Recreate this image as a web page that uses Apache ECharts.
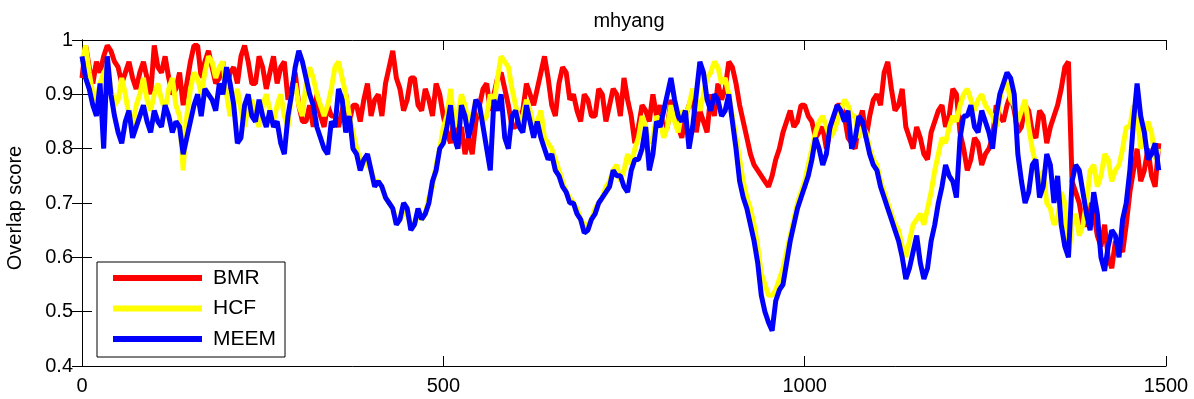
<!DOCTYPE html>
<html>
<head>
<meta charset="utf-8">
<script src="https://cdn.jsdelivr.net/npm/echarts@6/dist/echarts.min.js"></script>
<style>
html,body{margin:0;padding:0;background:#fff;}
#chart{width:1194px;height:399px;}
</style>
</head>
<body>
<div id="chart"></div>
<script>
// frames sampled every 10 (A) and the in-between frames (B)
var framesA = [0,10,20,30,40,50,60,70,80,90,100,110,120,130,140,150,160,170,180,190,200,210,220,230,240,250,260,270,280,290,300,310,320,330,340,350,360,370,380,390,400,410,420,430,440,450,460,470,480,490,500,510,520,530,540,550,560,570,580,590,600,610,620,630,640,650,660,670,680,690,700,710,720,730,740,750,760,770,780,790,800,810,820,830,840,850,860,870,880,890,900,910,920,930,940,950,960,970,980,990,1000,1010,1020,1030,1040,1050,1060,1070,1080,1090,1100,1110,1120,1130,1140,1150,1160,1170,1180,1190,1200,1210,1220,1230,1240,1250,1260,1270,1280,1290,1300,1310,1320,1330,1340,1350,1360,1370,1380,1390,1400,1410,1420,1430,1440,1450,1460,1470,1480,1490];
var framesB = [5,15,25,35,45,55,65,75,85,95,105,115,125,135,145,155,165,175,185,195,205,215,225,235,245,255,265,275,285,295,305,315,325,335,345,355,365,375,385,395,405,415,425,435,445,455,465,475,485,495,505,515,525,535,545,555,565,575,585,595,605,615,625,635,645,655,665,675,685,695,705,715,725,735,745,755,765,775,785,795,805,815,825,835,845,855,865,875,885,895,905,915,925,935,945,955,965,975,985,995,1005,1015,1025,1035,1045,1055,1065,1075,1085,1095,1105,1115,1125,1135,1145,1155,1165,1175,1185,1195,1205,1215,1225,1235,1245,1255,1265,1275,1285,1295,1305,1315,1325,1335,1345,1355,1365,1375,1385,1395,1405,1415,1425,1435,1445,1455,1465,1475,1485];

var bmrA = [0.93,0.95,0.96,0.97,0.98,0.95,0.94,0.93,0.94,0.93,
0.99,0.94,0.93,0.91,0.88,0.96,0.99,0.96,0.95,0.93,
0.91,0.95,0.97,0.96,0.92,0.95,0.94,0.92,0.96,0.91,
0.88,0.85,0.84,0.86,0.88,0.86,0.87,0.85,0.88,0.89,
0.86,0.90,0.92,0.98,0.91,0.89,0.93,0.87,0.89,0.92,
0.86,0.81,0.80,0.79,0.79,0.88,0.92,0.90,0.94,0.88,
0.84,0.87,0.90,0.91,0.97,0.88,0.92,0.94,0.90,0.85,
0.89,0.86,0.90,0.88,0.90,0.93,0.86,0.84,0.87,0.90,
0.88,0.84,0.86,0.82,0.88,0.83,0.85,0.90,0.92,0.91,
0.95,0.88,0.82,0.77,0.75,0.73,0.78,0.83,0.87,0.85,
0.88,0.85,0.83,0.80,0.84,0.88,0.82,0.80,0.87,0.86,
0.90,0.94,0.91,0.88,0.84,0.80,0.82,0.78,0.85,0.88,
0.86,0.90,0.80,0.78,0.81,0.79,0.82,0.86,0.88,0.87,
0.84,0.87,0.82,0.86,0.84,0.88,0.95,0.74,0.70,0.66,
0.68,0.62,0.60,0.63,0.61,0.72,0.80,0.76,0.75,0.81];
var bmrB = [0.99,0.92,0.94,0.99,0.96,0.92,0.96,0.91,0.96,0.90,
0.95,0.97,0.90,0.94,0.92,0.99,0.93,0.98,0.92,0.96,
0.94,0.92,0.99,0.92,0.97,0.91,0.97,0.95,0.89,0.94,
0.85,0.88,0.90,0.84,0.86,0.84,0.90,0.88,0.85,0.92,
0.89,0.86,0.95,0.93,0.87,0.93,0.88,0.91,0.86,0.90,
0.83,0.86,0.84,0.82,0.85,0.91,0.87,0.93,0.91,0.84,
0.86,0.92,0.88,0.94,0.93,0.86,0.95,0.89,0.87,0.90,
0.86,0.91,0.85,0.91,0.86,0.89,0.81,0.88,0.85,0.86,
0.83,0.89,0.84,0.86,0.90,0.87,0.83,0.86,0.89,0.96,
0.92,0.85,0.79,0.76,0.74,0.75,0.80,0.85,0.84,0.88,
0.86,0.82,0.84,0.83,0.88,0.86,0.81,0.85,0.82,0.89,
0.88,0.96,0.87,0.91,0.82,0.84,0.79,0.83,0.87,0.84,
0.91,0.83,0.76,0.82,0.77,0.80,0.88,0.85,0.90,0.83,
0.88,0.83,0.87,0.81,0.86,0.91,0.96,0.72,0.66,0.70,
0.64,0.66,0.58,0.62,0.66,0.76,0.74,0.80,0.73];

var hcfA = [0.96,0.94,0.89,0.94,0.91,0.89,0.90,0.84,0.90,0.89,
0.90,0.89,0.91,0.88,0.76,0.91,0.93,0.94,0.96,0.95,
0.90,0.88,0.87,0.88,0.86,0.88,0.87,0.88,0.86,0.90,
0.88,0.92,0.93,0.88,0.88,0.95,0.93,0.86,0.80,0.78,
0.76,0.74,0.71,0.69,0.67,0.68,0.66,0.67,0.71,0.77,
0.84,0.91,0.86,0.88,0.86,0.87,0.86,0.88,0.97,0.95,
0.88,0.86,0.87,0.85,0.82,0.80,0.76,0.72,0.70,0.67,
0.66,0.69,0.71,0.74,0.77,0.76,0.77,0.82,0.84,0.82,
0.85,0.84,0.85,0.87,0.88,0.89,0.90,0.94,0.95,0.93,
0.86,0.78,0.71,0.66,0.57,0.53,0.54,0.58,0.64,0.70,
0.74,0.80,0.85,0.84,0.83,0.87,0.88,0.86,0.84,0.80,
0.77,0.72,0.68,0.65,0.60,0.66,0.68,0.69,0.76,0.82,
0.84,0.85,0.90,0.89,0.89,0.88,0.86,0.89,0.92,0.88,
0.87,0.84,0.77,0.76,0.69,0.67,0.70,0.66,0.64,0.70,
0.77,0.75,0.78,0.76,0.80,0.84,0.86,0.82,0.83,0.80];
var hcfB = [0.99,0.90,0.92,0.95,0.88,0.93,0.86,0.88,0.93,0.87,
0.92,0.87,0.93,0.86,0.86,0.94,0.90,0.97,0.93,0.96,
0.86,0.91,0.84,0.89,0.84,0.90,0.85,0.90,0.84,0.92,
0.86,0.95,0.90,0.86,0.91,0.96,0.90,0.83,0.78,0.77,
0.74,0.73,0.70,0.67,0.68,0.66,0.68,0.68,0.73,0.80,
0.86,0.84,0.90,0.84,0.89,0.85,0.90,0.93,0.96,0.91,
0.85,0.89,0.84,0.87,0.81,0.78,0.74,0.71,0.69,0.66,
0.67,0.70,0.73,0.76,0.74,0.79,0.80,0.86,0.81,0.86,
0.82,0.88,0.83,0.86,0.91,0.87,0.93,0.96,0.92,0.90,
0.82,0.74,0.69,0.62,0.55,0.53,0.56,0.61,0.67,0.72,
0.77,0.83,0.86,0.82,0.85,0.89,0.86,0.82,0.83,0.78,
0.74,0.70,0.66,0.62,0.63,0.67,0.66,0.72,0.79,0.81,
0.86,0.88,0.91,0.87,0.90,0.87,0.84,0.92,0.89,0.85,
0.89,0.80,0.73,0.70,0.66,0.72,0.60,0.68,0.66,0.76,
0.73,0.79,0.74,0.77,0.84,0.88,0.80,0.85,0.78];

var meemA = [0.97,0.91,0.86,0.80,0.90,0.83,0.85,0.82,0.86,0.85,
0.87,0.84,0.86,0.85,0.79,0.85,0.90,0.91,0.89,0.92,
0.95,0.88,0.82,0.90,0.85,0.86,0.87,0.85,0.79,0.90,
0.98,0.93,0.88,0.82,0.79,0.84,0.89,0.86,0.79,0.78,
0.76,0.74,0.71,0.69,0.67,0.69,0.66,0.67,0.70,0.76,
0.81,0.88,0.80,0.86,0.85,0.88,0.80,0.89,0.90,0.80,
0.87,0.83,0.85,0.85,0.80,0.79,0.75,0.72,0.70,0.67,
0.65,0.68,0.71,0.73,0.75,0.73,0.76,0.78,0.84,0.79,
0.84,0.90,0.89,0.85,0.80,0.90,0.94,0.87,0.89,0.87,
0.85,0.74,0.69,0.63,0.53,0.48,0.52,0.55,0.63,0.69,
0.73,0.78,0.80,0.79,0.86,0.87,0.87,0.82,0.85,0.79,
0.76,0.71,0.67,0.63,0.56,0.61,0.59,0.58,0.66,0.73,
0.75,0.71,0.86,0.88,0.83,0.85,0.80,0.90,0.94,0.90,
0.74,0.72,0.78,0.73,0.77,0.75,0.62,0.74,0.76,0.68,
0.72,0.60,0.62,0.64,0.67,0.76,0.92,0.83,0.79,0.76];
var meemB = [0.93,0.88,0.92,0.97,0.86,0.81,0.87,0.84,0.88,0.83,
0.85,0.88,0.83,0.84,0.82,0.88,0.86,0.90,0.87,0.90,
0.92,0.81,0.88,0.86,0.89,0.84,0.84,0.81,0.86,0.95,
0.96,0.90,0.84,0.80,0.85,0.91,0.83,0.80,0.76,0.79,
0.73,0.73,0.70,0.66,0.70,0.65,0.69,0.68,0.74,0.80,
0.84,0.82,0.88,0.82,0.89,0.84,0.76,0.87,0.82,0.86,
0.84,0.88,0.82,0.82,0.78,0.76,0.73,0.70,0.68,0.645,
0.67,0.70,0.72,0.76,0.75,0.72,0.78,0.80,0.76,0.85,
0.87,0.93,0.86,0.87,0.84,0.96,0.89,0.90,0.86,0.90,
0.80,0.71,0.66,0.59,0.50,0.465,0.54,0.59,0.66,0.71,
0.75,0.82,0.77,0.84,0.88,0.85,0.80,0.86,0.82,0.77,
0.73,0.69,0.65,0.60,0.58,0.64,0.56,0.63,0.70,0.77,
0.74,0.82,0.86,0.84,0.87,0.83,0.86,0.92,0.93,0.79,
0.70,0.77,0.71,0.79,0.70,0.66,0.60,0.77,0.72,0.65,
0.68,0.575,0.65,0.60,0.70,0.85,0.86,0.78,0.81];

var seriesNames = ['BMR', 'HCF', 'MEEM'];
var seriesColors = ['#ff0000', '#ffff00', '#0000ff'];
var seriesA = [bmrA, hcfA, meemA];
var seriesB = [bmrB, hcfB, meemB];
var xTicks = [0, 500, 1000, 1500];
var yTicks = [0.4, 0.5, 0.6, 0.7, 0.8, 0.9, 1];

var FONT = '"Liberation Sans", Arial, Helvetica, sans-serif';

function merge(a, b) {
  var out = [];
  for (var i = 0; i < framesA.length; i++) {
    out.push([framesA[i], a[i]]);
    if (i < framesB.length) out.push([framesB[i], b[i]]);
  }
  return out;
}

var chart = echarts.init(document.getElementById('chart'), null, {renderer: 'canvas'});

var series = seriesNames.map(function (n, i) {
  return {
    name: n,
    type: 'line',
    data: merge(seriesA[i], seriesB[i]),
    showSymbol: false,
    symbol: 'none',
    lineStyle: {width: 5, color: seriesColors[i]},
    itemStyle: {color: seriesColors[i]},
    z: 2 + i
  };
});

var axisCommon = {
  axisLine: {show: true, lineStyle: {color: '#000', width: 1}},
  axisTick: {show: true, inside: true, length: 10, lineStyle: {color: '#000', width: 1}},
  splitLine: {show: false}
};

chart.setOption({
  animation: false,
  backgroundColor: '#fff',
  textStyle: {fontFamily: FONT},
  title: {
    text: 'mhyang',
    left: 624,
    top: 6,
    textAlign: 'center',
    textStyle: {fontFamily: FONT, fontSize: 20, fontWeight: 'normal', color: '#000'}
  },
  grid: {left: 82, right: 28, top: 40, bottom: 33, containLabel: false},
  legend: {
    data: seriesNames,
    orient: 'vertical',
    left: 97,
    top: 262,
    icon: 'rect',
    itemWidth: 89,
    itemHeight: 6,
    itemGap: 9.5,
    padding: [5.5, 9, 7.5, 16],
    backgroundColor: '#fff',
    borderColor: '#000',
    borderWidth: 1,
    borderRadius: 0,
    selectedMode: false,
    z: 20,
    textStyle: {fontFamily: FONT, fontSize: 21, lineHeight: 21, color: '#000', padding: [0, 0, 0, 6]}
  },
  xAxis: [
    Object.assign({
      type: 'value', min: 0, max: 1500, interval: 500, position: 'bottom',
      axisLabel: {show: true, color: '#000', fontSize: 20, fontFamily: FONT, margin: 10,
        formatter: function (v) { return xTicks.indexOf(v) >= 0 ? String(v) : ''; }}
    }, axisCommon),
    Object.assign({
      type: 'value', min: 0, max: 1500, interval: 500, position: 'top',
      axisLabel: {show: false}
    }, axisCommon)
  ],
  yAxis: [
    Object.assign({
      type: 'value', min: 0.4, max: 1, interval: 0.1, position: 'left',
      axisLabel: {show: true, color: '#000', fontSize: 20, fontFamily: FONT, margin: 9,
        formatter: function (v) { var r = Math.round(v * 10) / 10; return yTicks.indexOf(r) >= 0 ? String(r) : ''; }}
    }, axisCommon),
    Object.assign({
      type: 'value', min: 0.4, max: 1, interval: 0.1, position: 'right',
      axisLabel: {show: false}
    }, axisCommon)
  ],
  graphic: [{
    type: 'text',
    rotation: Math.PI / 2,
    style: {text: 'Overlap score', fontFamily: FONT, fontSize: 20, fill: '#000', textAlign: 'center', textVerticalAlign: 'middle'},
    position: [15, 208],
    z: 10
  }],
  series: series
});
</script>
</body>
</html>
